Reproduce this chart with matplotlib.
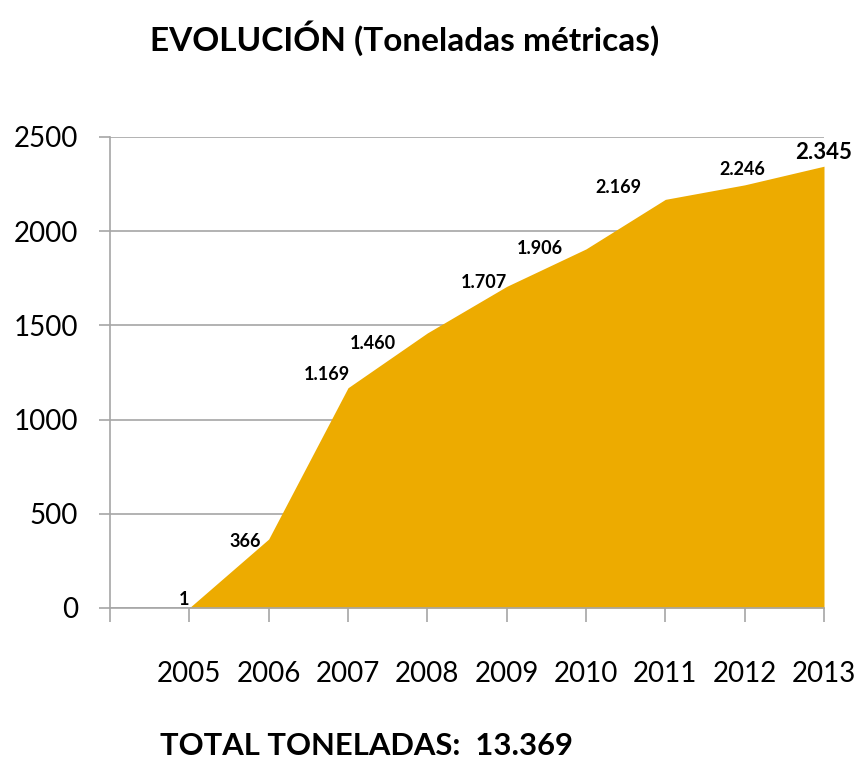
import matplotlib
matplotlib.use("Agg")
import matplotlib.pyplot as plt

years = [2005, 2006, 2007, 2008, 2009, 2010, 2011, 2012, 2013]
values = [1, 366, 1169, 1460, 1707, 1906, 2169, 2246, 2345]
labels = ["1", "366", "1.169", "1.460", "1.707", "1.906", "2.169", "2.246", "2.345"]
yticks = [0, 500, 1000, 1500, 2000, 2500]
title = "EVOLUCIÓN (Toneladas métricas)"
total_text = "TOTAL TONELADAS:  13.369"

# label offsets in pixels (dx, dy) relative to each point
offsets = [(-5, 8), (-23, -2), (-21, 13), (-54, -11), (-23, 4), (-46, 0), (-47, 12), (-2, 15), (0, 14)]

plt.rcParams['font.family'] = ['Lato', 'DejaVu Sans']
fig = plt.figure(figsize=(8.63, 7.73), dpi=100)
ax = fig.add_axes([110/863, (773-608)/773, (824-110)/863, (608-137)/773])

ax.fill_between(years, values, 0, color='#EDAB00', linewidth=0, zorder=2)
ax.set_xlim(2004, 2013)
ax.set_ylim(0, 2500)
ax.set_yticks(yticks)
ax.set_xticks([2004] + years)
ax.set_xticklabels([""] + [str(y) for y in years])
ax.yaxis.grid(True, color='#A6A6A6', linewidth=1.2, zorder=1)
ax.set_axisbelow(True)
for s in ['top', 'right']:
    ax.spines[s].set_visible(False)
for s in ['left', 'bottom']:
    ax.spines[s].set_color('#A6A6A6')
    ax.spines[s].set_linewidth(1.2)
ax.spines['bottom'].set_zorder(3)
ax.tick_params(axis='x', length=10, color='#A6A6A6', width=1.2, pad=28, labelsize=20)
ax.tick_params(axis='y', length=8, color='#A6A6A6', width=1.2, pad=15, labelsize=20)

for i, (x, v, t) in enumerate(zip(years, values, labels)):
    dx, dy = offsets[i]
    big = i == len(years) - 1
    ax.annotate(t, (x, v), xytext=(dx * 0.72, dy * 0.72), textcoords='offset points',
                ha='center', va='center', fontsize=16 if big else 13,
                fontweight='bold', color='black', zorder=4, annotation_clip=False)

fig.text(405/863, 1 - 38/773, title, ha='center', va='center', fontsize=24, fontweight='bold')
fig.text(160/863, 1 - 746/773, total_text, ha='left', va='center', fontsize=22.3, fontweight='bold')

fig.savefig('out.png', dpi=100)
